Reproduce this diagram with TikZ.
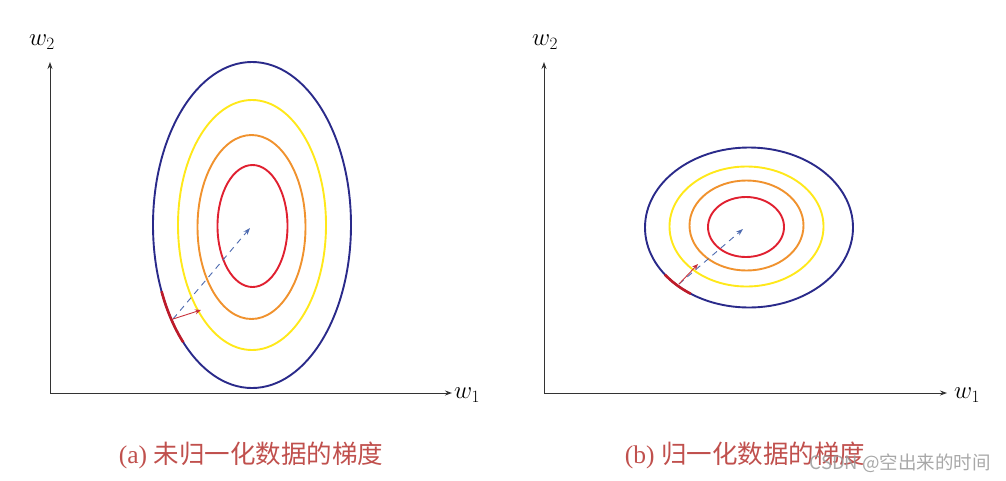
\documentclass[tikz,border=0pt]{standalone}
\usepackage{fontspec}
\setmainfont{Liberation Serif}
\newfontfamily\cjk{Noto Sans CJK SC}
\usetikzlibrary{arrows.meta}
\definecolor{ebl}{HTML}{2A2A8A}
\definecolor{eye}{HTML}{FFE81A}
\definecolor{eor}{HTML}{F0922E}
\definecolor{ere}{HTML}{E02030}
\definecolor{capc}{HTML}{C0504D}
\definecolor{axc}{HTML}{333333}
\definecolor{dashc}{HTML}{4E6BB0}
\definecolor{gradc}{HTML}{C8323C}
\tikzset{
  axisline/.style={draw=axc, line width=0.9pt, -{Stealth[length=7pt,width=5pt]}},
  contour/.style={line width=1.9pt},
  seg/.style={draw=ere!85!black, line width=2.6pt},
  gradarrow/.style={draw=gradc, line width=0.9pt, -{Stealth[length=6pt,width=5pt]}},
  dasharrow/.style={draw=dashc, line width=0.9pt, dash pattern=on 6pt off 5pt, -{Stealth[length=7pt,width=5pt]}},
  lbl/.style={font=\fontsize{24}{26}\selectfont, inner sep=0pt},
  captxt/.style={text=capc, font=\fontsize{25.5}{28}\selectfont, inner sep=0pt},
  wm/.style={text=gray!80, font=\cjk\fontsize{18.5}{20}\selectfont, inner sep=0pt, opacity=0.85}
}
\begin{document}
\begin{tikzpicture}[x=1pt,y=-1pt]
\useasboundingbox (0,0) rectangle (1006,480);
% ---------------- left panel ----------------
\coordinate (ao) at (50,393);
\coordinate (ay) at (50,62);
\coordinate (ax) at (452,393);
\draw[axisline] (ao) -- (ay);
\draw[axisline] (ao) -- (ax);
\node[lbl] (lw2) at (42,42) {$w_2$};
\node[lbl] (lw1) at (467,395) {$w_1$};
\draw[contour, ebl] (252,225) ellipse [x radius=99, y radius=163];
\draw[contour, eye] (252,225) ellipse [x radius=74, y radius=125];
\draw[contour, eor] (251.5,227) ellipse [x radius=54, y radius=92];
\draw[contour, ere] (252.5,226) ellipse [x radius=35, y radius=61];
\draw[seg] plot[domain=134:156, samples=30] ({252+99*cos(\x)},{225+163*sin(\x)});
\coordinate (ap) at (173,319);
\coordinate (ac) at (250,228);
\coordinate (ag) at (201,310);
\draw[dasharrow] (ap) -- (ac);
\draw[gradarrow] (ap) -- (ag);
\node[captxt] (capa) at (251,455) {(a) {\cjk 未归一化数据的梯度}};
% ---------------- right panel ----------------
\coordinate (bo) at (544,393);
\coordinate (by) at (544,62);
\coordinate (bx) at (947,393);
\draw[axisline] (bo) -- (by);
\draw[axisline] (bo) -- (bx);
\node[lbl] (rw2) at (545,42) {$w_2$};
\node[lbl] (rw1) at (967,395) {$w_1$};
\draw[contour, ebl] (749,227.5) ellipse [x radius=104, y radius=80];
\draw[contour, eye] (746.5,226.5) ellipse [x radius=77, y radius=60];
\draw[contour, eor] (746.5,225.5) ellipse [x radius=57, y radius=45];
\draw[contour, ere] (746,227) ellipse [x radius=38, y radius=30];
\draw[seg] plot[domain=124:144, samples=30] ({749+104*cos(\x)},{227.5+80*sin(\x)});
\coordinate (bp) at (679,284);
\coordinate (bc) at (743,229);
\coordinate (bg) at (698,264);
\draw[dasharrow] (bp) -- (bc);
\draw[gradarrow] (bp) -- (bg);
\node[captxt] (capb) at (745,455) {(b) {\cjk 归一化数据的梯度}};
\node[wm, anchor=east] (wmk) at (991,463) {CSDN @空出来的时间};
\end{tikzpicture}
\end{document}
